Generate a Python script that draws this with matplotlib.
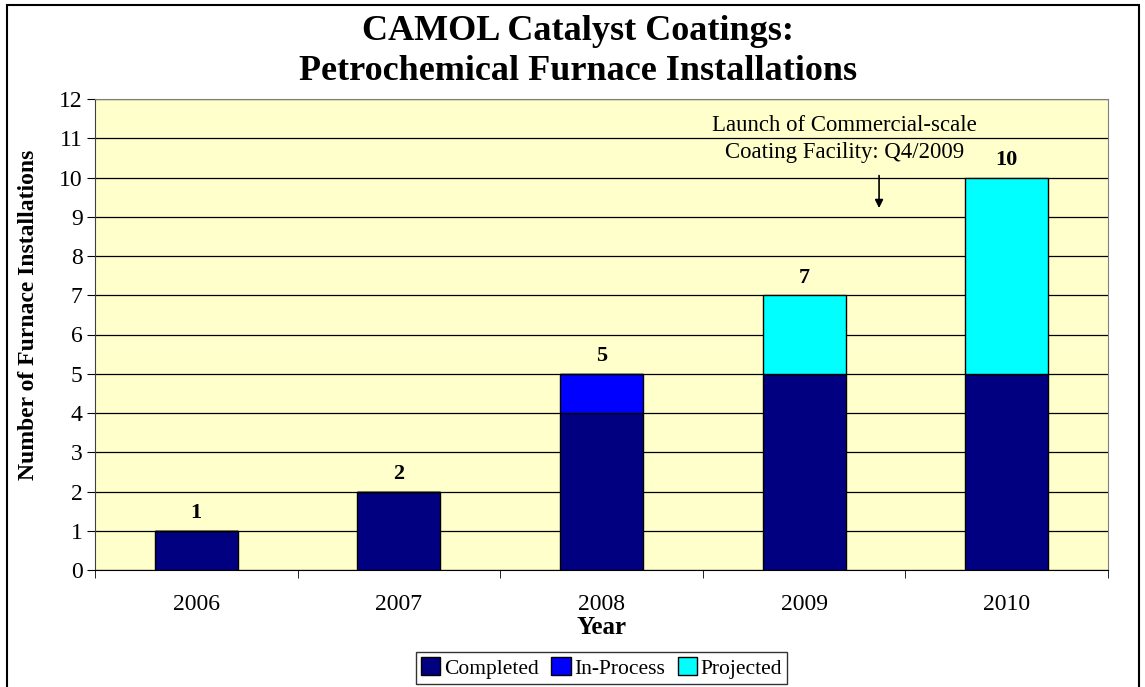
import numpy as np
import matplotlib.pyplot as plt
from matplotlib.patches import Rectangle

years = ["2006", "2007", "2008", "2009", "2010"]
completed = [1, 2, 4, 5, 5]
in_process = [0, 0, 1, 0, 0]
projected = [0, 0, 0, 2, 5]
totals = [1, 2, 5, 7, 10]

plt.rcParams["font.family"] = ["Liberation Serif", "DejaVu Serif"]

fig = plt.figure(figsize=(11.45, 6.87), dpi=100)
ax = fig.add_axes([95 / 1145, 1 - 570 / 687, 1013 / 1145, 471 / 687])
ax.set_facecolor("#FFFFCC")

x = np.arange(len(years))
w = 0.41
c = np.array(completed)
p = np.array(in_process)
ax.bar(x, completed, w, color="#000080", edgecolor="black", linewidth=1, label="Completed", zorder=3)
ax.bar(x, in_process, w, bottom=c, color="#0000FF", edgecolor="black", linewidth=1, label="In-Process", zorder=3)
ax.bar(x, projected, w, bottom=c + p, color="#00FFFF", edgecolor="black", linewidth=1, label="Projected", zorder=3)

for xi, t in zip(x, totals):
    ax.text(xi, t + 0.45, str(t), ha="center", va="center", fontsize=16, fontweight="bold")

ax.set_xlim(-0.5, len(years) - 0.5)
ax.set_ylim(0, 12)
ax.set_yticks(range(0, 13))
ax.yaxis.grid(True, color="black", linewidth=0.9, zorder=1)
ax.set_axisbelow(True)
ax.set_xticks(x)
ax.set_xticklabels(years)
ax.set_xticks(np.arange(-0.5, len(years)), minor=True)
ax.tick_params(axis="x", which="major", length=0, pad=17, labelsize=17)
ax.tick_params(axis="x", which="minor", length=6, direction="out", color="black")
ax.tick_params(axis="y", length=6, direction="out", labelsize=17, pad=3)
for s in ["top", "right"]:
    ax.spines[s].set_color("#808080")
ax.spines["left"].set_color("#404040")
ax.spines["bottom"].set_color("black")

ax.set_xlabel("Year", fontsize=18, fontweight="bold", va="center")
ax.xaxis.set_label_coords(0.5, -(628 - 570) / 471)
ax.set_ylabel("Number of Furnace Installations", fontsize=17, fontweight="bold", va="center")
ax.yaxis.set_label_coords(-(95 - 29) / 1013, (570 - 315) / 471)
fig.text(0.505, 0.925, "CAMOL Catalyst Coatings:\nPetrochemical Furnace Installations",
         ha="center", va="center", fontsize=26, fontweight="bold", linespacing=1.28)

ax.text(3.2, 10.98, "Launch of Commercial-scale\nCoating Facility: Q4/2009",
        ha="center", va="center", fontsize=16.4, linespacing=1.4)
ax.annotate("", xy=(3.37, 9.15), xytext=(3.37, 10.12),
            arrowprops=dict(arrowstyle="-|>", color="black", lw=1.2, mutation_scale=12))

leg = ax.legend(loc="center", bbox_to_anchor=(0.5, -(668 - 570) / 471), ncol=3, frameon=True,
                fontsize=15.5, handlelength=0.9, handleheight=0.9, handletextpad=0.15,
                columnspacing=0.6, borderpad=0.25, fancybox=False, borderaxespad=0)
leg.get_frame().set_edgecolor("black")
leg.get_frame().set_linewidth(1)

fig.patches.append(Rectangle((7 / 1145, -0.01), 1132 / 1145, 1 - 5 / 687 + 0.01,
                             transform=fig.transFigure, fill=False, edgecolor="black", linewidth=1.5))

fig.savefig("out.png", dpi=100)
